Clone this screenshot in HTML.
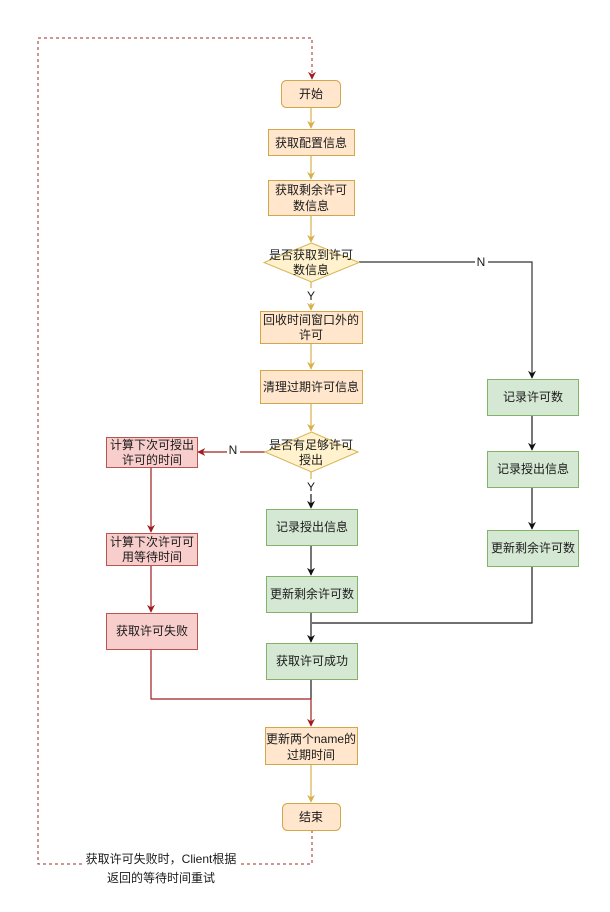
<!DOCTYPE html>
<html><head><meta charset="utf-8"><style>
html,body{margin:0;padding:0;background:#fff;}
svg{display:block;}
text{font-family:"Liberation Sans","Noto Sans CJK SC",sans-serif;font-size:12px;fill:#1a1a1a;text-anchor:middle;}
</style></head><body>
<svg width="610" height="912" viewBox="0 0 610 912" xmlns="http://www.w3.org/2000/svg">
<defs>
<marker id="ay" viewBox="0 0 10 10" refX="9" refY="5" markerWidth="8" markerHeight="8" orient="auto" markerUnits="userSpaceOnUse"><path d="M0,0 L10,5 L0,10 L3,5 z" fill="#d6b24a"/></marker>
<marker id="ab" viewBox="0 0 10 10" refX="9" refY="5" markerWidth="8" markerHeight="8" orient="auto" markerUnits="userSpaceOnUse"><path d="M0,0 L10,5 L0,10 L3,5 z" fill="#111"/></marker>
<marker id="ar" viewBox="0 0 10 10" refX="9" refY="5" markerWidth="8" markerHeight="8" orient="auto" markerUnits="userSpaceOnUse"><path d="M0,0 L10,5 L0,10 L3,5 z" fill="#a11d1d"/></marker>
</defs>

<!-- dashed loop -->
<path d="M312,830 L312,864 L38,864 L38,38 L312,38 L312,79" fill="none" stroke="#a3282a" stroke-width="1" stroke-dasharray="3,3" marker-end="url(#ar)"/>
<rect x="84" y="849" width="156" height="36" fill="#fff"/>
<text x="161" y="863">获取许可失败时，Client根据</text>
<text x="161" y="882">返回的等待时间重试</text>

<!-- yellow connectors -->
<g stroke="#d6b24a" stroke-width="1.2" fill="none">
<path d="M311,108 L311,128" marker-end="url(#ay)"/>
<path d="M311,155 L311,179" marker-end="url(#ay)"/>
<path d="M311,215 L311,242" marker-end="url(#ay)"/>
<path d="M311,282 L311,310" marker-end="url(#ay)"/>
<path d="M311,343 L311,369" marker-end="url(#ay)"/>
<path d="M311,403 L311,431" marker-end="url(#ay)"/>
<path d="M311,764 L311,802" marker-end="url(#ay)"/>
<path d="M311,472 L311,490"/>
</g>

<!-- black connectors -->
<g stroke="#1a1a1a" stroke-width="1.2" fill="none">
<path d="M359,262 L532,262 L532,378" stroke="#333" marker-end="url(#ab)"/>
<path d="M532,415 L532,450" marker-end="url(#ab)"/>
<path d="M532,487 L532,529" marker-end="url(#ab)"/>
<path d="M532,566 L532,623 L312,623"/>
<path d="M311,490 L311,508" marker-end="url(#ab)"/>
<path d="M311,545 L311,575" marker-end="url(#ab)"/>
<path d="M311,612 L311,642" marker-end="url(#ab)"/>
<path d="M311,679 L311,699"/>
</g>

<!-- red connectors -->
<g stroke="#a11d1d" stroke-width="1.2" fill="none">
<path d="M265,452 L198,452" marker-end="url(#ar)"/>
<path d="M151,467 L151,532" marker-end="url(#ar)"/>
<path d="M151,565 L151,612" marker-end="url(#ar)"/>
<path d="M151,649 L151,699 L311,699 L311,726" marker-end="url(#ar)"/>
</g>

<!-- labels on edges -->
<rect x="475" y="254" width="13" height="15" fill="#fff"/>
<text x="481" y="266">N</text>
<rect x="304" y="288" width="14" height="15" fill="#fff"/>
<text x="311" y="300">Y</text>
<rect x="227" y="442" width="13" height="15" fill="#fff"/>
<text x="233" y="454">N</text>
<rect x="304" y="479" width="14" height="15" fill="#fff"/>
<text x="311" y="491">Y</text>

<!-- orange nodes -->
<g fill="#ffe6cc" stroke="#d4a64a" stroke-width="1">
<rect x="281.5" y="80.5" width="59" height="27" rx="5"/>
<rect x="268.5" y="129.5" width="86" height="26"/>
<rect x="268.5" y="180.5" width="86" height="35"/>
<rect x="260.5" y="311.5" width="102" height="32"/>
<rect x="260.5" y="370.5" width="102" height="33"/>
<rect x="265.5" y="727.5" width="92" height="37"/>
<rect x="282.5" y="803.5" width="58" height="27" rx="5"/>
</g>
<text x="311" y="98">开始</text>
<text x="311" y="147">获取配置信息</text>
<text x="311" y="194">获取剩余许可</text>
<text x="311" y="210">数信息</text>
<text x="311" y="324">回收时间窗口外的</text>
<text x="311" y="339">许可</text>
<text x="311" y="391">清理过期许可信息</text>
<text x="311" y="743">更新两个name的</text>
<text x="311" y="759">过期时间</text>
<text x="311" y="821">结束</text>

<!-- diamonds -->
<g fill="#fff2cc" stroke="#d6b656" stroke-width="1">
<path d="M311.5,243 L359,262.5 L311.5,282 L264,262.5 z"/>
<path d="M311.5,432 L358,452 L311.5,472 L265,452 z"/>
</g>
<text x="311" y="259">是否获取到许可</text>
<text x="311" y="274">数信息</text>
<text x="311" y="449">是否有足够许可</text>
<text x="311" y="464">授出</text>

<!-- green nodes -->
<g fill="#d5e8d4" stroke="#82b366" stroke-width="1">
<rect x="487.5" y="379.5" width="91" height="36"/>
<rect x="487.5" y="451.5" width="91" height="36"/>
<rect x="487.5" y="530.5" width="91" height="36"/>
<rect x="266.5" y="509.5" width="91" height="36"/>
<rect x="266.5" y="576.5" width="91" height="36"/>
<rect x="266.5" y="643.5" width="91" height="36"/>
</g>
<text x="533" y="401">记录许可数</text>
<text x="533" y="473">记录授出信息</text>
<text x="533" y="552">更新剩余许可数</text>
<text x="312" y="531">记录授出信息</text>
<text x="312" y="598">更新剩余许可数</text>
<text x="312" y="665">获取许可成功</text>

<!-- red nodes -->
<g fill="#f8cecc" stroke="#b85450" stroke-width="1">
<rect x="106.5" y="437.5" width="91" height="30"/>
<rect x="106.5" y="533.5" width="91" height="32"/>
<rect x="106.5" y="613.5" width="91" height="36"/>
</g>
<text x="152" y="449">计算下次可授出</text>
<text x="152" y="464">许可的时间</text>
<text x="152" y="546">计算下次许可可</text>
<text x="152" y="561">用等待时间</text>
<text x="152" y="635">获取许可失败</text>
</svg>
</body></html>
